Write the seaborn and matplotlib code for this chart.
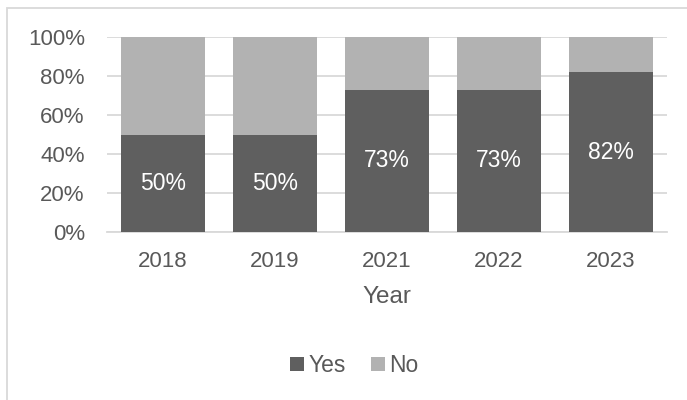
import matplotlib
matplotlib.use("Agg")
import matplotlib.pyplot as plt
from matplotlib.patches import Rectangle
from matplotlib.lines import Line2D
import seaborn as sns
import pandas as pd

years = ["2018", "2019", "2021", "2022", "2023"]
yes_pct = [50, 50, 73, 73, 82]
no_pct = [50, 50, 27, 27, 18]
y_ticks = [0, 20, 40, 60, 80, 100]

YES_COLOR = "#5f5f5f"
NO_COLOR = "#b2b2b2"
TEXT_COLOR = "#595959"
GRID_COLOR = "#d9d9d9"

sns.set_theme(style="white")
plt.rcParams["font.family"] = ["Liberation Sans", "DejaVu Sans"]

df = pd.DataFrame({"Year": years, "Yes": yes_pct, "No": no_pct})
df["Total"] = df["Yes"] + df["No"]

fig = plt.figure(figsize=(6.87, 4.0), dpi=100)
ax = fig.add_axes([107 / 687, 168 / 400, 560 / 687, (363 - 168) / 400])

# stacked bars: full height in the "No" colour, "Yes" portion drawn over it
sns.barplot(data=df, x="Year", y="Total", color=NO_COLOR, width=0.75,
            saturation=1, ax=ax, zorder=2)
sns.barplot(data=df, x="Year", y="Yes", color=YES_COLOR, width=0.75,
            saturation=1, ax=ax, zorder=3)
for p in ax.patches:
    p.set_linewidth(0)

ax.set_ylim(0, 100)
ax.set_xlim(-0.5, len(years) - 0.5)
ax.set_yticks(y_ticks)
ax.set_yticklabels([f"{t}%" for t in y_ticks])
ax.yaxis.grid(True, color=GRID_COLOR, linewidth=1.3, zorder=0)
ax.set_axisbelow(True)
for s in ["top", "right", "left"]:
    ax.spines[s].set_visible(False)
ax.spines["bottom"].set_color(GRID_COLOR)
ax.spines["bottom"].set_linewidth(1.3)
ax.spines["bottom"].set_zorder(1)

ax.tick_params(axis="both", length=0, labelsize=16, labelcolor=TEXT_COLOR)
ax.tick_params(axis="y", pad=16)
ax.tick_params(axis="x", pad=14)
ax.set_ylabel("")
ax.set_xlabel("Year", fontsize=17.5, color=TEXT_COLOR, labelpad=10)

# value labels centred in the "Yes" segment
for i, v in enumerate(yes_pct):
    ax.text(i, v / 2, f"{v}%", ha="center", va="center", color="white",
            fontsize=16.5, zorder=5)

handles = [
    Line2D([], [], marker="s", linestyle="none", markersize=9.5,
           markerfacecolor=YES_COLOR, markeredgewidth=0),
    Line2D([], [], marker="s", linestyle="none", markersize=9.5,
           markerfacecolor=NO_COLOR, markeredgewidth=0),
]
fig.legend(handles, ["Yes", "No"], loc="center", bbox_to_anchor=(354 / 687, 1 - 366 / 400),
           ncol=2, frameon=False, fontsize=16.5, labelcolor=TEXT_COLOR,
           handlelength=0.6, handletextpad=0.2, columnspacing=1.1)

# chart frame
fig.add_artist(Rectangle((6.5 / 687, -0.1), 1.2, 1.1 - 7.5 / 400,
                         transform=fig.transFigure, fill=False,
                         edgecolor=GRID_COLOR, linewidth=1.3))

fig.savefig("out.png", dpi=100)
